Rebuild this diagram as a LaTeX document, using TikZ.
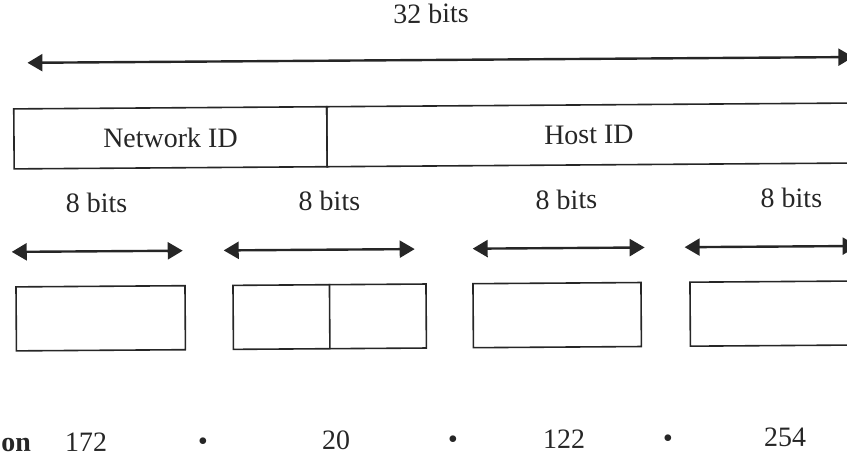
\documentclass[tikz,border=0pt]{standalone}
\usepackage{fontspec}
\setmainfont{Liberation Serif}
\usetikzlibrary{arrows.meta,positioning}
\tikzset{
  field/.style = {draw, line width=1.6pt, rectangle, minimum height=64pt, inner sep=0pt},
  span/.style  = {{Triangle[length=15pt,width=17pt]}-{Triangle[length=15pt,width=17pt]}, line width=2.4pt},
  lbl/.style   = {font=\fontsize{28}{33}\selectfont, inner sep=0pt, anchor=base},
  big/.style   = {font=\fontsize{28}{33}\selectfont}
}

\begin{document}
\begin{tikzpicture}[x=1pt, y=-1pt, color=black!85]
  \useasboundingbox (0,0) rectangle (847,457);
  \clip (0,0) rectangle (847,457);

% the scan is a little tilted
  \begin{scope}[rotate=0.4, transform shape]

% whole address
    \node[lbl] (total) at (431,26) {32 bits};
    \coordinate (tw) at (27,63);
    \coordinate (te) at (853,63);
    \draw[span] (tw) -- (te);

% network part and host part
    \node[field, big, minimum width=313pt, minimum height=60pt] (netid) at (169.5,139) {Network ID};
    \node[field, big, minimum width=524pt, minimum height=60pt] (hostid) at (588,139) {Host ID};

% the four octets
    \foreach \n/\lx/\ax/\bx in {1/95/10/181, 2/328/222/413, 3/565/471/643, 4/790/683/856}
    {
      \node[lbl] (bits\n) at (\lx,213) {8 bits};
      \coordinate (w\n) at (\ax,252);
      \coordinate (e\n) at (\bx,252);
      \draw[span] (w\n) -- (e\n);
    }

    \node[field, minimum width=169pt] (oct1) at (98.5,319) {};
    \node[field, minimum width=193pt] (oct2) at (327.5,319) {};
    \node[field, minimum width=168pt] (oct3) at (555,319) {};
    \node[field, minimum width=168pt] (oct4) at (772,319) {};
    \draw[line width=1.6pt] (oct2.north) -- (oct2.south);

% dotted decimal
    \node[lbl, anchor=base west, font=\fontsize{28}{33}\selectfont\bfseries] (notation) at (-2,452) {on};
    \foreach \n/\x/\v in {1/83/172, 2/333/20, 3/561/122, 4/782/254}
      \node[lbl] (dec\n) at (\x,452) {\v};
    \foreach \n/\x in {1/200, 2/450, 3/665}
      \node[lbl] (dot\n) at (\x,452) {\textbullet};
  \end{scope}
\end{tikzpicture}
\end{document}
